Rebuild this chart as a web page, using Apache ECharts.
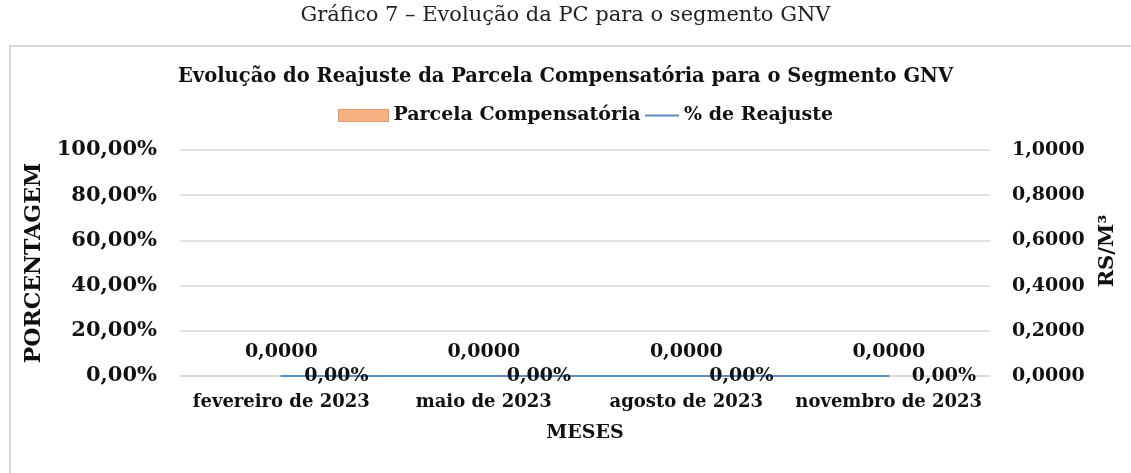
<!DOCTYPE html>
<html lang="pt">
<head>
    <meta charset="UTF-8">
    <title>Evolução da PC - GNV</title>
    <script src="https://cdn.jsdelivr.net/npm/echarts@6/dist/echarts.min.js"></script>
    <style type="text/css">
        html, body { margin: 0; padding: 0; background: #ffffff; }
        #chart { width: 1131px; height: 473px; }
    </style>
</head>
<body>
<div id="chart"></div>
<script type="text/javascript">
    // dados
    var meses = ['fevereiro de 2023', 'maio de 2023', 'agosto de 2023', 'novembro de 2023'];
    var parcelaCompensatoria = [0, 0, 0, 0];   // R$/m³
    var reajuste = [0, 0, 0, 0];               // fração (0 = 0,00%)

    var fonte = '"DejaVu Serif", "Liberation Serif", serif';
    var corTexto = '#111111';
    var corLinha = '#5b8ec4';

    function fmtPct(v) {
        return (v * 100).toFixed(2).replace('.', ',') + '%';
    }
    function fmtRs(v) {
        return v.toFixed(4).replace('.', ',');
    }

    var myChart = echarts.init(document.getElementById('chart'));
    var option = {
        backgroundColor: '#ffffff',
        textStyle: { fontFamily: fonte },
        graphic: [
            {
                type: 'rect',
                shape: { x: 10, y: 46, width: 1140, height: 440 },
                style: { fill: 'none', stroke: '#d9d9d9', lineWidth: 2 },
                silent: true
            },
            {
                type: 'text',
                left: 'center',
                top: 5,
                style: {
                    text: 'Gráfico 7 – Evolução da PC para o segmento GNV',
                    font: '21px ' + fonte,
                    fill: '#222222'
                }
            }
        ],
        title: {
            text: 'Evolução do Reajuste da Parcela Compensatória para o Segmento GNV',
            left: 'center',
            top: 62,
            textStyle: { fontFamily: fonte, fontSize: 19.5, fontWeight: 'bold', color: corTexto }
        },
        legend: [
            {
                top: 101,
                left: 333,
                itemWidth: 50,
                itemHeight: 12,
                itemGap: 4,
                textStyle: { fontFamily: fonte, fontSize: 19, fontWeight: 'bold', color: corTexto },
                data: [{ name: 'Parcela Compensatória', icon: 'rect', itemStyle: { borderColor: '#e8956a', borderWidth: 1 } }]
            },
            {
                top: 101,
                left: 639,
                itemWidth: 34,
                itemHeight: 12,
                textStyle: { fontFamily: fonte, fontSize: 19, fontWeight: 'bold', color: corTexto },
                data: [{ name: '% de Reajuste', itemStyle: { opacity: 0 } }]
            }
        ],
        grid: { left: 180, right: 141, top: 150, bottom: 97 },
        xAxis: {
            type: 'category',
            data: meses,
            name: 'MESES',
            nameLocation: 'middle',
            nameGap: 48,
            nameTextStyle: { fontFamily: fonte, fontSize: 19, fontWeight: 'bold', color: corTexto },
            axisLine: { lineStyle: { color: '#d9d9d9', width: 1.5 } },
            axisTick: { length: 5, lineStyle: { color: '#d9d9d9' } },
            axisLabel: { interval: 0, fontFamily: fonte, fontSize: 18, fontWeight: 'bold', color: corTexto, margin: 17 }
        },
        yAxis: [
            {
                type: 'value',
                min: 0, max: 1, interval: 0.2,
                name: 'PORCENTAGEM',
                nameLocation: 'middle',
                nameGap: 127,
                nameTextStyle: { fontFamily: fonte, fontSize: 22, fontWeight: 'bold', color: corTexto },
                axisLine: { show: false },
                axisTick: { show: false },
                splitLine: { lineStyle: { color: '#d9d9d9', width: 1.5 } },
                axisLabel: {
                    fontFamily: fonte, fontSize: 21, fontWeight: 'bold', color: corTexto, margin: 23,
                    formatter: fmtPct
                }
            },
            {
                type: 'value',
                min: 0, max: 1, interval: 0.2,
                name: 'RS/M³',
                nameLocation: 'middle',
                nameGap: 107,
                nameRotate: 90,
                nameTextStyle: { fontFamily: fonte, fontSize: 21, fontWeight: 'bold', color: corTexto, padding: [0, 0, 0, 24] },
                axisLine: { show: false },
                axisTick: { show: false },
                splitLine: { show: false },
                axisLabel: {
                    fontFamily: fonte, fontSize: 19, fontWeight: 'bold', color: corTexto, margin: 22,
                    formatter: fmtRs
                }
            }
        ],
        series: [
            {
                name: 'Parcela Compensatória',
                type: 'bar',
                yAxisIndex: 1,
                data: parcelaCompensatoria,
                barWidth: '50%',
                itemStyle: { color: '#f4b183', borderWidth: 0 },
                label: {
                    show: true,
                    position: 'top',
                    distance: 14,
                    fontFamily: fonte, fontSize: 19, fontWeight: 'bold', color: corTexto,
                    formatter: function (p) { return fmtRs(p.value); }
                }
            },
            {
                name: '% de Reajuste',
                type: 'line',
                yAxisIndex: 0,
                data: reajuste,
                symbol: 'circle',
                symbolSize: 2,
                lineStyle: { color: corLinha, width: 2 },
                itemStyle: { color: corLinha },
                label: {
                    show: true,
                    position: 'right',
                    distance: 22,
                    offset: [0, 0],
                    fontFamily: fonte, fontSize: 19, fontWeight: 'bold', color: corTexto,
                    formatter: function (p) { return fmtPct(p.value); }
                }
            }
        ]
    };
    myChart.setOption(option);
</script>
</body>
</html>
